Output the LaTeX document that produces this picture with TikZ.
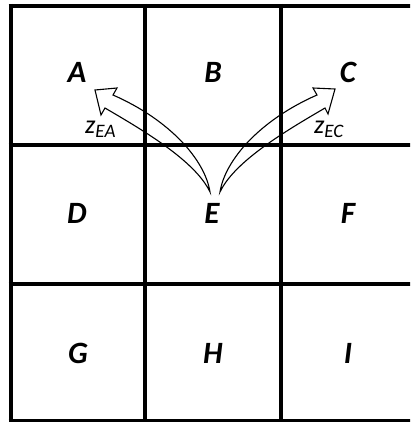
\documentclass[tikz,border=0pt]{standalone}
\usepackage{fontspec}
\setmainfont{Carlito}
\begin{document}
\begin{tikzpicture}[x=1pt,y=-1pt,
  gridline/.style={line width=4pt,black},
  cell/.style={font=\fontsize{31}{31}\selectfont\bfseries\itshape,inner sep=0pt},
  zlab/.style={anchor=base west,inner sep=0pt},
  hollow/.style={draw=black,line width=1.1pt,line join=miter}]
\useasboundingbox (0,0) rectangle (410,422);
\clip (0,0) rectangle (410,422);
% grid
\draw[gridline] (8.5,6) -- (412,6);
\draw[gridline] (8.5,145) -- (412,145);
\draw[gridline] (8.5,284) -- (412,284);
\draw[gridline] (8.5,420.5) -- (412,420.5);
\draw[gridline] (10.5,4) -- (10.5,424);
\draw[gridline] (145,4) -- (145,424);
\draw[gridline] (281,4) -- (281,424);
% letters
\node[cell] (A) at (77,72) {A};
\node[cell] (B) at (213,72) {B};
\node[cell] (C) at (348,72) {C};
\node[cell] (D) at (77,213) {D};
\node[cell] (E) at (212,213) {E};
\node[cell] (F) at (348,213) {F};
\node[cell] (G) at (78,353) {G};
\node[cell] (H) at (213,353) {H};
\node[cell] (I) at (348,353) {I};
% labels
\node[zlab] (zea) at (85,134) {\fontsize{26}{26}\selectfont\itshape z\raisebox{-4pt}{\fontsize{19}{19}\selectfont EA}};
\node[zlab] (zec) at (314,134) {\fontsize{26}{26}\selectfont\itshape z\raisebox{-4pt}{\fontsize{19}{19}\selectfont EC}};
% arrows
\coordinate (baseA) at (210,192);
\coordinate (baseC) at (220,192);
\draw[hollow] (baseA) .. controls (205,160) and (170,120) .. (113,95) -- (117,88) -- (95,90) -- (101,115) -- (105,108) .. controls (139,128) and (195,160) .. (baseA) -- cycle;
\draw[hollow] (baseC) .. controls (225,160) and (260,120) .. (317,95) -- (313,88) -- (335,89) -- (328,114) -- (325,108) .. controls (291,128) and (235,160) .. (baseC) -- cycle;
\end{tikzpicture}
\end{document}
